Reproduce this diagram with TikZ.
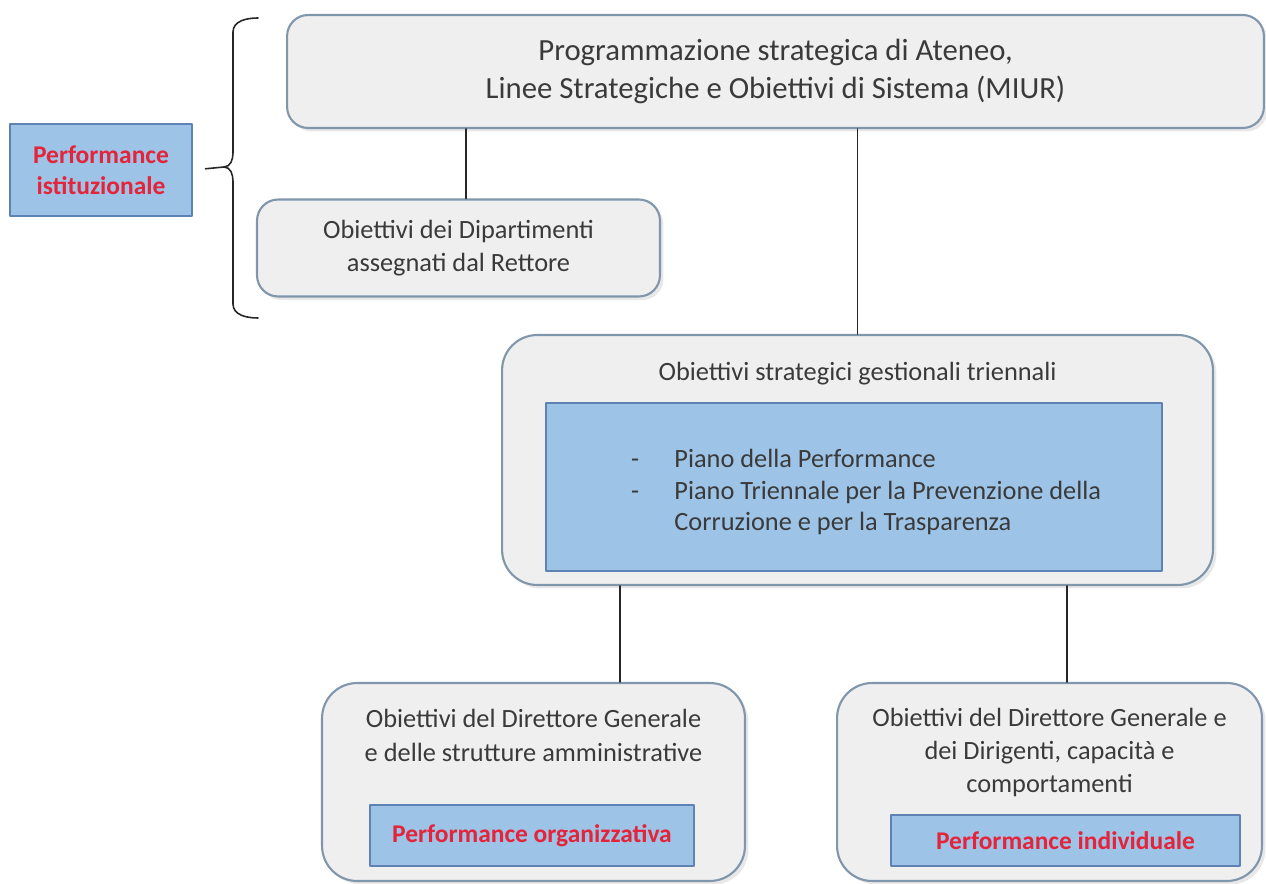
\documentclass[tikz,border=0pt]{standalone}
\usepackage{fontspec}
\setmainfont{Carlito}
\usepackage{xcolor}
\usetikzlibrary{shadows}
\definecolor{boxgray}{HTML}{EFEFEF}
\definecolor{boxline}{HTML}{8096AC}
\definecolor{bluefill}{HTML}{9DC3E6}
\definecolor{blueline}{HTML}{5E82B4}
\definecolor{perfred}{HTML}{E3243A}
\definecolor{txtgray}{HTML}{3A3A3A}
\tikzset{
	grbox/.style={draw=boxline,fill=boxgray,line width=1.2pt,rounded corners=12pt,align=center,text=txtgray,inner sep=0pt,
		drop shadow={opacity=0.18,shadow xshift=2pt,shadow yshift=-2pt}},
	bluebox/.style={draw=blueline,fill=bluefill,line width=1pt,align=center,inner sep=0pt},
	redlbl/.style={text=perfred,font=\fontsize{14.5}{17.5}\selectfont\bfseries},
	link/.style={line width=0.9pt,draw=black!85}
}

\begin{document}
\begin{tikzpicture}
	[line cap=round,line join=round,x=0.02cm,y=-0.02cm]
	\useasboundingbox (0,0) rectangle (1266,884);
	% top level
	\node [grbox,minimum width=19.54cm,minimum height=2.26cm,font=\fontsize{17.5}{21.5}\selectfont] (prog) at (775.5,71.5)
		{Programmazione strategica di Ateneo,\\Linee Strategiche e Obiettivi di Sistema (MIUR)};
	\node [bluebox,minimum width=3.64cm,minimum height=1.84cm,redlbl] (pist) at (101,170)
		{Performance\\istituzionale};
	\node [grbox,minimum width=8.06cm,minimum height=1.94cm,font=\fontsize{15}{19}\selectfont] (dip) at (458.5,248)
		{Obiettivi dei Dipartimenti\\assegnati dal Rettore};
	% brace
	\coordinate (tip) at (224,167);
	\draw [link] (258,18) to[out=180,in=90] (233,32) -- (233,153) to[out=-90,in=0] (tip)
		to[out=0,in=90] (233,181) -- (233,304) to[out=-90,in=180] (258,318);
	\draw [link,shorten <=8\pgflinewidth] (pist.east) -- (tip);
	% middle level
	\node [grbox,rounded corners=20pt,minimum width=14.22cm,minimum height=5cm] (strat) at (857.5,460) {};
	\node [text=txtgray,font=\fontsize{15}{19}\selectfont] (stratlbl) at (857.5,374) {Obiettivi strategici gestionali triennali};
	\node [bluebox,minimum width=12.32cm,minimum height=3.36cm] (piani) at (854,487) {};
	\node [anchor=west,text=txtgray,font=\fontsize{15}{18}\selectfont] (pianilbl) at (625,493)
		{\begin{tabular}{@{}l@{\hspace{20pt}}l@{}}
			- & Piano della Performance\\
			- & Piano Triennale per la Prevenzione della\\
			  & Corruzione e per la Trasparenza
		\end{tabular}};
	% bottom level
	\node [grbox,rounded corners=20pt,minimum width=8.46cm,minimum height=3.96cm] (dgorg) at (533.5,782) {};
	\node [text=txtgray,align=center,font=\fontsize{15}{19}\selectfont] (dgorglbl) at (533.5,735.5)
		{Obiettivi del Direttore Generale\\e delle strutture amministrative};
	\node [bluebox,minimum width=6.48cm,minimum height=1.22cm,redlbl] (porg) at (532,835.5) {Performance organizzativa};
	\node [grbox,rounded corners=20pt,minimum width=8.5cm,minimum height=3.96cm] (dgind) at (1049.5,782) {};
	\node [text=txtgray,align=center,font=\fontsize{15}{19}\selectfont] (dgindlbl) at (1049.5,752.5)
		{Obiettivi del Direttore Generale e\\dei Dirigenti, capacità e\\comportamenti};
	\node [bluebox,minimum width=6.98cm,minimum height=1.02cm,redlbl] (pind) at (1065.5,840.5) {Performance individuale};
	% connectors
	\draw [link] (prog.south -| 466,0) -- (dip.north -| 466,0);
	\draw [link] (prog.south -| strat.north) -- (strat.north);
	\draw [link] (strat.south -| 620,0) -- (dgorg.north -| 620,0);
	\draw [link] (strat.south -| 1067,0) -- (dgind.north -| 1067,0);
\end{tikzpicture}
\end{document}
